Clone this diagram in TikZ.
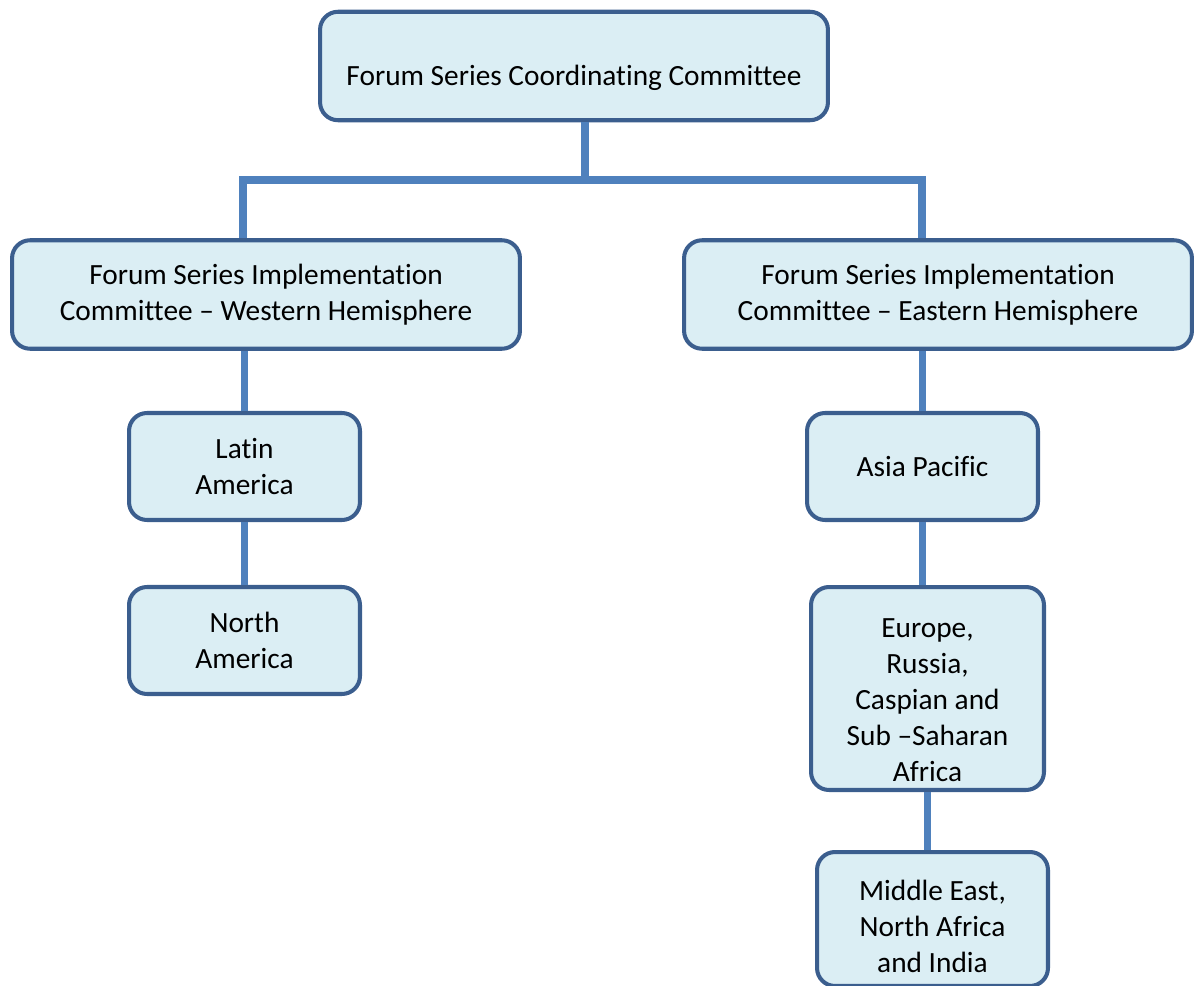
\documentclass[tikz,border=0pt]{standalone}
\usepackage{fontspec}
\setmainfont{Carlito}[Ligatures=NoCommon]
\usepackage{tikz}
\usepackage{xcolor}
\definecolor{boxfill}{HTML}{DBEEF4}
\definecolor{boxline}{HTML}{3B5E8E}
\definecolor{linkblue}{HTML}{4F81BD}
\tikzstyle{unit}=[
  draw=boxline,fill=boxfill,line width=2.3pt,
  rounded corners=0.36cm,align=center,inner sep=2pt,
  font=\fontsize{16.7pt}{20.4pt}\selectfont]
\tikzstyle{wide}=[unit,minimum width=10.16cm,minimum height=2.17cm]
\tikzstyle{narrow}=[unit,minimum width=4.62cm,minimum height=2.14cm]
\tikzstyle{link}=[draw=linkblue,line width=4.5pt]

\begin{document}
\begin{tikzpicture}[x=0.02cm,y=-0.02cm]
  \useasboundingbox (0,0) rectangle (1196,986);

  \node[wide,text height=1.1cm,text depth=0.3cm] (coord) at (574,66)
    {Forum Series Coordinating Committee};
  \node[wide] (west) at (266,294.5)
    {Forum Series Implementation\\Committee -- Western Hemisphere};
  \node[wide] (east) at (938,294.5)
    {Forum Series Implementation\\Committee -- Eastern Hemisphere};

  \node[narrow] (latin) at (244.5,466.5) {Latin\\America};
  \node[narrow] (north) at (244.5,640.5) {North\\America};

  \node[narrow] (asia) at (922.5,466.5) {Asia Pacific};
  \node[narrow,minimum width=4.66cm,minimum height=4.06cm] (europe) at (927.5,688.5)
    {\rule{0pt}{24pt}Europe,\\Russia,\\Caspian and\\Sub --Saharan\\Africa};
  \node[narrow,minimum height=2.68cm] (mideast) at (932.5,919)
    {\rule{0pt}{20pt}Middle East,\\North Africa\\and India};

  \coordinate (split) at (585,180);
  \coordinate (wtop) at (243,180);
  \coordinate (etop) at (922,180);

  \draw[link] (split |- coord.south) -- (split);
  \draw[link] (wtop |- west.north) -- (wtop) -- (etop) -- (etop |- east.north);
  \draw[link] (latin.north) -- (latin.north |- west.south);
  \draw[link] (latin.south) -- (north.north);
  \draw[link] (asia.north) -- (asia.north |- east.south);
  \draw[link] (asia.south) -- (asia.south |- europe.north);
  \draw[link] (europe.south) -- (europe.south |- mideast.north);
\end{tikzpicture}
\end{document}
